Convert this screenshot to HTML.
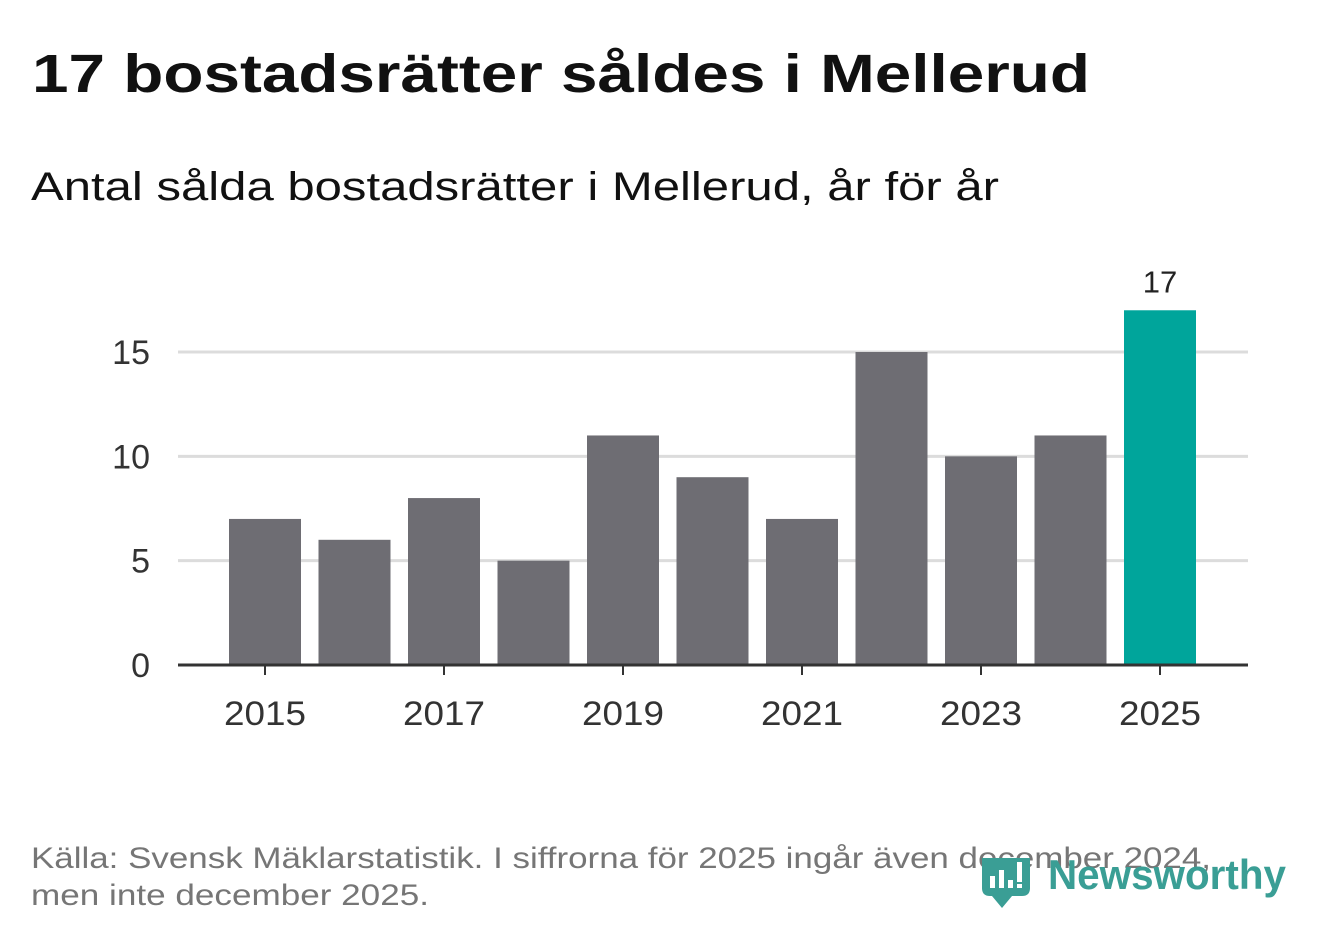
<!DOCTYPE html>
<html><head><meta charset="utf-8"><style>
html,body{margin:0;padding:0;background:#fff;}
svg{display:block;font-family:"Liberation Sans",sans-serif;}
</style></head><body>
<svg id="chart" width="1322" height="939" viewBox="0 0 1322 939">
<text x="32" y="92" font-size="54" font-weight="bold" fill="#111" textLength="1058" lengthAdjust="spacingAndGlyphs">17 bostadsrätter såldes i Mellerud</text>
<text x="31" y="200" font-size="40" fill="#111" textLength="968" lengthAdjust="spacingAndGlyphs">Antal sålda bostadsrätter i Mellerud, år för år</text>
<g id="grid"></g>
<g id="bars"></g>
<g id="xaxis"></g>
<text x="31" y="868" font-size="30" fill="#767676" textLength="1180" lengthAdjust="spacingAndGlyphs">Källa: Svensk Mäklarstatistik. I siffrorna för 2025 ingår även december 2024,</text>
<text x="31" y="905" font-size="30" fill="#767676" textLength="398" lengthAdjust="spacingAndGlyphs">men inte december 2025.</text>
<g>
<path d="M982 858 h48 v30 q0 8 -8 8 h-10 l-10 12 l-10 -12 h-2 q-8 0 -8 -8z" fill="#3a9e95"/>
<rect x="990" y="876" width="5" height="12" fill="#fff"/><rect x="999" y="870" width="5" height="18" fill="#fff"/><rect x="1008" y="880" width="5" height="8" fill="#fff"/><rect x="1017" y="862" width="5" height="20" fill="#fff"/><rect x="1017" y="884" width="5" height="4" fill="#fff"/>
<text x="1048" y="889" font-size="42" font-weight="bold" fill="#3a9e95" textLength="238" lengthAdjust="spacingAndGlyphs">Newsworthy</text>
</g>
</svg>
<script>
const years=[2015,2016,2017,2018,2019,2020,2021,2022,2023,2024,2025];
const values=[7,6,8,5,11,9,7,15,10,11,17];
const yTicks=[0,5,10,15];
const xTickLabels=[2015,2017,2019,2021,2023,2025];
const NS="http://www.w3.org/2000/svg";
const x0=178,x1=1248,y0=665,pxPerUnit=313/15;
const step=(1160-265)/(years.length-1);
const xc=i=>265+step*i;
const ys=v=>y0-v*pxPerUnit;
function mk(tag,attrs,parent){const e=document.createElementNS(NS,tag);for(const k in attrs)e.setAttribute(k,attrs[k]);parent.appendChild(e);return e;}
const grid=document.getElementById('grid'),bars=document.getElementById('bars'),xa=document.getElementById('xaxis');
yTicks.forEach(t=>{
 if(t>0){const l=mk('line',{x1:x0,x2:x1,y1:ys(t),y2:ys(t),stroke:'#dcdcdc','stroke-width':3},grid);
 
 }
 const tx=mk('text',{x:150,y:ys(t)+12,'font-size':34,fill:'#333','text-anchor':'end'},grid);tx.textContent=t;
 
 
});
values.forEach((v,i)=>{
 const last=i===values.length-1;
 const r=mk('rect',{x:xc(i)-36,y:ys(v),width:72,height:v*pxPerUnit,fill:last?'#00a59b':'#6e6d73'},bars);
 
 
 if(last){const t=mk('text',{x:xc(i),y:ys(v)-18,'font-size':31,fill:'#222','text-anchor':'middle'},bars);t.textContent=v;
 
 }
});
const ax=mk('line',{x1:x0,x2:x1,y1:y0,y2:y0,stroke:'#333','stroke-width':3},xa);


xTickLabels.forEach(y=>{
 const i=years.indexOf(y);
 const tk=mk('line',{x1:xc(i),x2:xc(i),y1:y0,y2:y0+10,stroke:'#333','stroke-width':2},xa);
 
 
 const t=mk('text',{x:xc(i),y:725,'font-size':34,fill:'#333','text-anchor':'middle',textLength:82,lengthAdjust:'spacingAndGlyphs'},xa);t.textContent=y;
 
 
});
</script>
</body></html>
